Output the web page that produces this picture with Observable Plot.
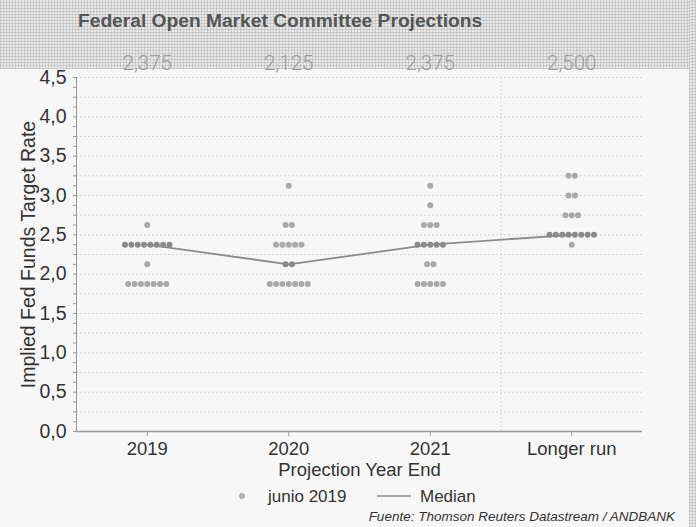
<!DOCTYPE html>
<html>
<head>
<meta charset="utf-8">
<script src="https://cdn.jsdelivr.net/npm/d3@7"></script>
<script src="https://cdn.jsdelivr.net/npm/@observablehq/plot@0.6"></script>
<style>
  html, body { margin: 0; padding: 0; background: #f7f7f7; }
  #wrap { position: relative; width: 696px; height: 527px; overflow: hidden; background: #f7f7f7;
    font-family: "Liberation Sans", Arial, sans-serif; }
  .pattern {
    background-color: #e9e9e9;
    background-image:
      repeating-linear-gradient(0deg, rgba(185,185,185,0.6) 0px, rgba(185,185,185,0.6) 1px, transparent 1px, transparent 3px),
      repeating-linear-gradient(90deg, rgba(185,185,185,0.6) 0px, rgba(185,185,185,0.6) 1px, transparent 1px, transparent 3px);
  }
  #header { position: absolute; left: 0; top: 0; width: 696px; height: 69px; z-index: 0; }
  #strip { position: absolute; left: 689px; top: 0; width: 7px; height: 527px; z-index: 0; }
  #title { position: absolute; left: 78px; top: 10px; font-size: 19.2px; font-weight: bold; color: #555; z-index: 3; }
  #chart { position: absolute; left: 0; top: 0; z-index: 2; }
  #chart svg { background: transparent !important; }
  #legend { position: absolute; top: 486px; left: 0; width: 696px; height: 22px; z-index: 3; }
  #source { position: absolute; right: 21px; top: 509px; font-size: 13.5px; font-style: italic; color: #333; z-index: 3; }
</style>
</head>
<body>
<div id="wrap">
  <div id="header" class="pattern"></div>
  <div id="strip" class="pattern"></div>
  <div id="title">Federal Open Market Committee Projections</div>
  <div id="chart"></div>
  <div id="legend">
    <svg width="696" height="22" style="position:absolute;left:0;top:0">
      <circle cx="242" cy="10" r="3" fill="#b0b0b0"></circle>
      <text x="268" y="16" font-size="17" fill="#333" font-family="Liberation Sans, Arial, sans-serif">junio 2019</text>
      <line x1="377" x2="411" y1="10" y2="10" stroke="#8c8c8c" stroke-width="1.6"></line>
      <text x="420" y="16" font-size="17" fill="#333" font-family="Liberation Sans, Arial, sans-serif">Median</text>
    </svg>
  </div>
  <div id="source">Fuente: Thomson Reuters Datastream / ANDBANK</div>
</div>
<script>
// ---- data ----
const categories = ["2019", "2020", "2021", "Longer run"];
const levels2019 = [2.625, 2.375, 2.125, 1.875];
const counts2019 = [1, 8, 1, 7];
const levels2020 = [3.125, 2.625, 2.375, 2.125, 1.875];
const counts2020 = [1, 2, 5, 2, 7];
const levels2021 = [3.125, 2.875, 2.625, 2.375, 2.125, 1.875];
const counts2021 = [1, 1, 3, 5, 2, 5];
const levelsLonger = [3.25, 3.0, 2.75, 2.5, 2.375];
const countsLonger = [2, 2, 3, 8, 1];
const medians = [2.375, 2.125, 2.375, 2.5];
const medianLabels = ["2,375", "2,125", "2,375", "2,500"];
const yTicks = [0, 0.5, 1, 1.5, 2, 2.5, 3, 3.5, 4, 4.5];

// ---- build dot table ----
const groups = [
  [levels2019, counts2019],
  [levels2020, counts2020],
  [levels2021, counts2021],
  [levelsLonger, countsLonger]
];
const dotStep = 0.0449; // horizontal spacing between stacked dots (x units)
const dots = [];
groups.forEach(([lv, ct], i) => {
  lv.forEach((rate, j) => {
    const n = ct[j];
    for (let k = 0; k < n; k++) {
      dots.push({
        x: i + (k - (n - 1) / 2) * dotStep,
        rate,
        median: rate === medians[i]
      });
    }
  });
});
const medianRows = categories.map((c, i) => ({ x: i, rate: medians[i], label: medianLabels[i] }));

const fmt = v => d3.format(".1f")(v).replace(".", ",");
const gridVals = d3.range(0.25, 4.5001, 0.25);
const minorTicks = d3.range(0, 4.5001, 0.125);

const chart = Plot.plot({
  width: 696,
  height: 482,
  marginTop: 77,
  marginLeft: 76,
  marginRight: 54,
  marginBottom: 51,
  style: { background: "transparent", fontFamily: "Liberation Sans, Arial, sans-serif", color: "#333" },
  x: { type: "linear", domain: [-0.5, 3.5], axis: null },
  y: { type: "linear", domain: [0, 4.5], axis: null },
  marks: [
    Plot.ruleY(gridVals, { stroke: "#d4d4d4", strokeDasharray: "2,2", strokeWidth: 1 }),
    Plot.ruleX([2.5], { stroke: "#d4d4d4", strokeDasharray: "2,2", strokeWidth: 1 }),
    // y axis line and ticks
    Plot.ruleX([-0.5], { stroke: "#999", strokeWidth: 1 }),
    Plot.axisY(minorTicks, { tickFormat: () => "", tickSize: 3, stroke: "#999", label: null }),
    Plot.axisY(yTicks, { tickFormat: fmt, tickSize: 0, tickPadding: 10, fontSize: 19.5, fill: "#333", label: null }),
    Plot.text(["Implied Fed Funds Target Rate"], {
      frameAnchor: "left", textAnchor: "middle", dx: -48, rotate: -90, fontSize: 19.5, fill: "#333"
    }),
    // x axis
    Plot.ruleY([0], { stroke: "#999", strokeWidth: 1.3 }),
    Plot.axisX([0, 1, 2, 3], { tickFormat: i => categories[i], tickSize: 5, stroke: "#999", tickPadding: 5, fontSize: 18.5, fill: "#333", label: null }),
    Plot.text(["Projection Year End"], { frameAnchor: "bottom", dy: 44, fontSize: 18.5, fill: "#333" }),
    // median labels at top
    Plot.text(medianRows, { x: "x", y: () => 4.5, text: "label", dy: -14, fontSize: 20.5, fontWeight: 300, fill: "#9c9c9c", fontFamily: "Roboto, Liberation Sans, Arial, sans-serif" }),
    // median line
    Plot.line(medianRows, { x: "x", y: "rate", stroke: "#8c8c8c", strokeWidth: 1.8 }),
    // dots
    Plot.dot(dots, { x: "x", y: "rate", r: 3, fill: d => d.median ? "#8a8a8a" : "#a9a9a9", stroke: "none" })
  ]
});
document.getElementById("chart").appendChild(chart);
</script>
</body>
</html>
